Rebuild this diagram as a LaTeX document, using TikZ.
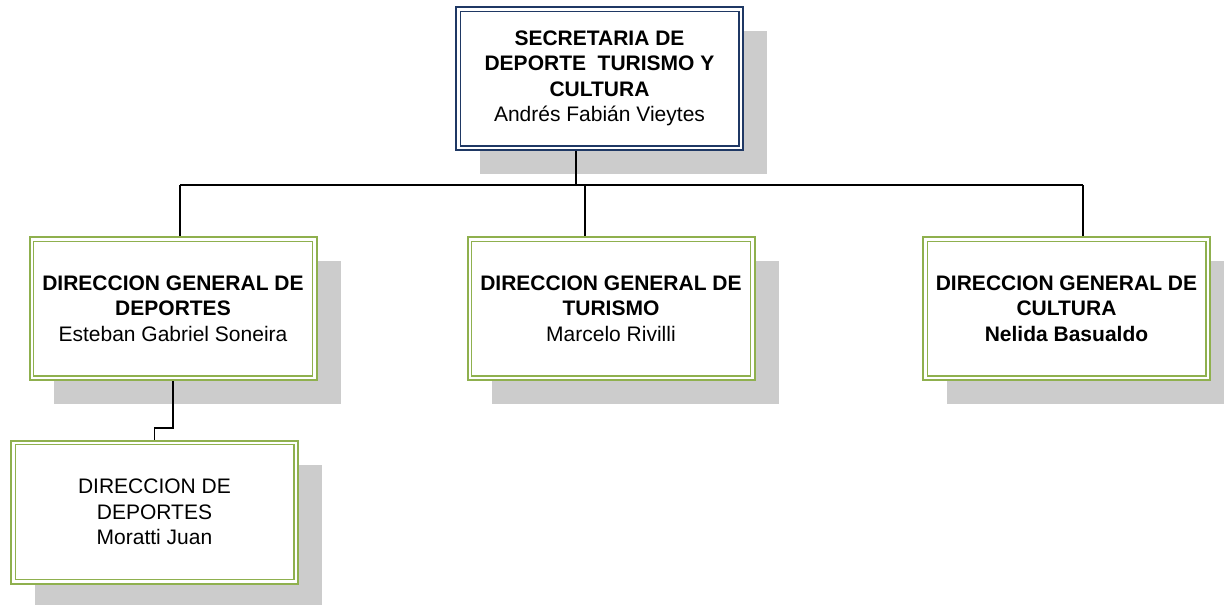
\documentclass[tikz,border=0pt]{standalone}
\usepackage{fontspec}
\setmainfont{Liberation Sans}
\usetikzlibrary{shadows}
\definecolor{navy}{HTML}{1F3864}
\definecolor{olive}{HTML}{8FB04E}
\definecolor{shadowgray}{HTML}{CCCCCC}
\tikzset{
  orgbox/.style={rectangle, minimum width=287pt, minimum height=143pt, inner sep=0pt,
    align=center, fill=white, line width=2pt, outer sep=1pt,
    font=\fontsize{21}{25.5}\selectfont,
    drop shadow={shadow xshift=24pt, shadow yshift=-24pt, fill=shadowgray, opacity=1},
    path picture={\draw[line width=1.4pt, draw=#1]
      ([shift={(4.2pt,-4.2pt)}]path picture bounding box.north west) rectangle
      ([shift={(-4.2pt,4.2pt)}]path picture bounding box.south east);}},
  topbox/.style={orgbox=navy, draw=navy},
  greenbox/.style={orgbox=olive, draw=olive},
  link/.style={draw=black, line width=1.2pt}
}
\begin{document}
\begin{tikzpicture}[x=1pt, y=-1pt]
\useasboundingbox (0,0) rectangle (1224,605);
\node[topbox] (top) at (599.5,78.5) {\bfseries SECRETARIA DE\\\bfseries DEPORTE\ \ TURISMO Y\\\bfseries CULTURA\\Andrés Fabián Vieytes};
\node[greenbox] (left) at (173,308.5) {\bfseries DIRECCION GENERAL DE\\\bfseries DEPORTES\\Esteban Gabriel Soneira};
\node[greenbox] (mid) at (611,308.5) {\bfseries DIRECCION GENERAL DE\\\bfseries TURISMO\\Marcelo Rivilli};
\node[greenbox] (right) at (1066.5,308.5) {\bfseries DIRECCION GENERAL DE\\\bfseries CULTURA\\\bfseries Nelida Basualdo};
\node[greenbox] (bottom) at (154.5,512) {DIRECCION DE\\DEPORTES\\Moratti Juan};
\coordinate (busL) at (180,185);
\coordinate (busR) at (1083,185);
\draw[link] ([xshift=-23.5pt]top.south) |- (busL);
\draw[link] (busL) -- (busR);
\draw[link] (busL) -- (busL |- left.north);
\draw[link] ([xshift=-26pt]mid.north) |- (busL);
\draw[link] ([xshift=16.5pt]right.north) |- (busR);
\draw[link] (left.south) -- ++(0,47) -| (bottom.north);
\end{tikzpicture}
\end{document}
